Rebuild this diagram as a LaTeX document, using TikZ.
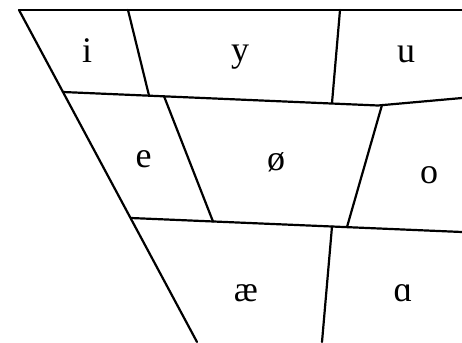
\documentclass[tikz,border=0pt]{standalone}
\usepackage{fontspec}
\setmainfont{Liberation Serif}
\usetikzlibrary{positioning}

\begin{document}
\begin{tikzpicture}[
        x=1pt, y=-1pt,
        edge/.style={line width=2.2pt, line cap=round, line join=round},
        vowel/.style={anchor=base, inner sep=0pt, font=\fontsize{36}{40}\selectfont}
    ]
        \useasboundingbox (0,0) rectangle (462,342);

        % outline of the chart
        \coordinate (tl) at (19,10);
        \coordinate (tr) at (462,10);
        \coordinate (bl) at (197,342);
        \coordinate (hia) at (63,92);
        \coordinate (hib) at (378,105.5);
        \coordinate (hic) at (462,98);
        \coordinate (loa) at (131,218);
        \coordinate (lob) at (462,232);

        % cell borders
        \coordinate (ua) at (128,10);
        \coordinate (ub) at (149,95.5);
        \coordinate (uc) at (340,10);
        \coordinate (ud) at (332,103);
        \coordinate (ma) at (164,96.2);
        \coordinate (mb) at (213,221.5);
        \coordinate (mc) at (382,105);
        \coordinate (md) at (347,227);
        \coordinate (la) at (332,226.5);
        \coordinate (lb) at (322,342);

        \draw[edge] (tl) -- (tr);
        \draw[edge] (tl) -- (bl);
        \draw[edge] (hia) -- (hib) -- (hic);
        \draw[edge] (loa) -- (lob);
        \draw[edge] (ua) -- (ub);
        \draw[edge] (uc) -- (ud);
        \draw[edge] (ma) -- (mb);
        \draw[edge] (mc) -- (md);
        \draw[edge] (la) -- (lb);

        \node[vowel] (i) at (87,63) {i};
        \node[vowel] (y) at (240,62) {y};
        \node[vowel] (u) at (406,63) {u};
        \node[vowel] (e) at (143.5,167) {e};
        \node[vowel] (oe) at (276,170) {ø};
        \node[vowel] (o) at (429,183) {o};
        \node[vowel] (ae) at (246,301) {æ};
        \node[vowel] (a) at (403,301) {ɑ};
    \end{tikzpicture}
\end{document}
